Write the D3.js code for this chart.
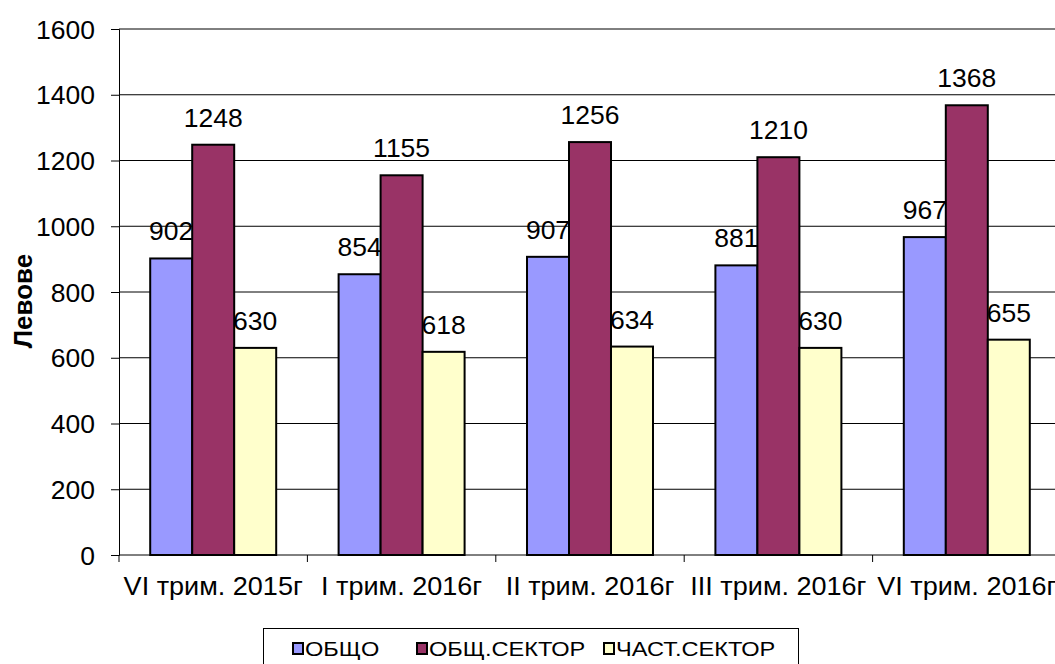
<!DOCTYPE html>
<html>
<head>
<meta charset="utf-8">
<script src="https://cdn.jsdelivr.net/npm/d3@7"></script>
<style>
  body { margin: 0; background: #fff; }
  svg { display: block; font-family: "Liberation Sans", Arial, sans-serif; }
</style>
</head>
<body>
<svg id="chart"></svg>
<script>
const categories = ["VI трим. 2015г", "I трим. 2016г", "II трим. 2016г", "III трим. 2016г", "VI трим. 2016г"];
const seriesNames = ["ОБЩО", "ОБЩ.СЕКТОР", "ЧАСТ.СЕКТОР"];
const obshto = [902, 854, 907, 881, 967];
const obshtSektor = [1248, 1155, 1256, 1210, 1368];
const chastSektor = [630, 618, 634, 630, 655];
const yTicks = [0, 200, 400, 600, 800, 1000, 1200, 1400, 1600];
const colors = ["#9999FF", "#993366", "#FFFFCC"];

function renderChart() {

  const svg = d3.select("#chart")
    .attr("width", 1055)
    .attr("height", 664);

  const margin = { top: 29, left: 119, bottom: 555, right: 1061 };
  const sx = 1.06; // text looks slightly stretched sideways in the source

  const x0 = d3.scaleBand()
    .domain(categories)
    .range([margin.left, margin.right])
    .padding(0);

  const x1 = d3.scaleBand()
    .domain(seriesNames)
    .range([0, x0.bandwidth()])
    .paddingInner(0)
    .paddingOuter(0.743);

  const y = d3.scaleLinear()
    .domain([0, 1600])
    .range([margin.bottom, margin.top]);

  // ===== GRIDLINES =====
  svg.append("g")
    .selectAll("line")
    .data(yTicks.filter(d => d > 0))
    .join("line")
    .attr("x1", margin.left)
    .attr("x2", margin.right)
    .attr("y1", d => y(d))
    .attr("y2", d => y(d))
    .attr("stroke", "#000")
    .attr("stroke-width", 1);

  // ===== AXES =====
  const yAxis = svg.append("g")
    .attr("transform", `translate(${margin.left},0)`)
    .call(d3.axisLeft(y).tickValues(yTicks).tickFormat(d3.format("d")).tickSize(8));

  yAxis.select(".domain").attr("stroke", "#000");
  yAxis.selectAll(".tick line").attr("stroke", "#000");
  yAxis.selectAll(".tick text")
    .attr("font-size", 25)
    .attr("fill", "#000")
    .attr("dy", "0.36em")
    .attr("transform", `scale(${sx},1)`)
    .attr("x", -24 / sx);

  const xAxis = svg.append("g")
    .attr("transform", `translate(0,${margin.bottom})`);

  xAxis.append("line")
    .attr("x1", margin.left)
    .attr("x2", margin.right)
    .attr("stroke", "#000");

  xAxis.selectAll(".cat-tick")
    .data(d3.range(categories.length + 1))
    .join("line")
    .attr("class", "cat-tick")
    .attr("x1", i => margin.left + i * x0.step())
    .attr("x2", i => margin.left + i * x0.step())
    .attr("y1", 0)
    .attr("y2", 7)
    .attr("stroke", "#000");

  xAxis.selectAll(".cat-label")
    .data(categories)
    .join("text")
    .attr("class", "cat-label")
    .attr("transform", d => `translate(${x0(d) + x0.bandwidth() / 2},40) scale(1.04,1)`)
    .attr("text-anchor", "middle")
    .attr("font-size", 26)
    .text(d => d);

  // ===== BARS =====
  const seriesValues = [obshto, obshtSektor, chastSektor];

  seriesValues.forEach((values, s) => {
    const name = seriesNames[s];
    const g = svg.append("g");

    g.selectAll("rect")
      .data(values)
      .join("rect")
      .attr("x", (d, i) => x0(categories[i]) + x1(name))
      .attr("y", d => y(d))
      .attr("width", x1.bandwidth())
      .attr("height", d => y(0) - y(d))
      .attr("fill", colors[s])
      .attr("stroke", "#000")
      .attr("stroke-width", 2);

    g.selectAll("text")
      .data(values)
      .join("text")
      .attr("transform", (d, i) =>
        `translate(${x0(categories[i]) + x1(name) + x1.bandwidth() / 2},${y(d) - 18}) scale(${sx},1)`)
      .attr("text-anchor", "middle")
      .attr("font-size", 25)
      .text(d => d);
  });

  // ===== Y LABEL =====
  svg.append("text")
    .attr("transform", "translate(32,301) rotate(-90)")
    .attr("text-anchor", "middle")
    .attr("font-size", 26)
    .attr("font-weight", 700)
    .text("Левове");

  // ===== LEGEND =====
  const legend = svg.append("g");

  legend.append("rect")
    .attr("x", 263.5)
    .attr("y", 628.5)
    .attr("width", 535)
    .attr("height", 50)
    .attr("fill", "#fff")
    .attr("stroke", "#000");

  const legendX = [293, 417, 604];

  seriesNames.forEach((name, s) => {
    legend.append("rect")
      .attr("x", legendX[s])
      .attr("y", 643)
      .attr("width", 10)
      .attr("height", 11)
      .attr("fill", colors[s])
      .attr("stroke", "#000")
      .attr("stroke-width", 2);

    legend.append("text")
      .attr("transform", `translate(${legendX[s] + 12},656) scale(1.15,1)`)
      .attr("font-size", 20.5)
      .text(name);
  });
}

renderChart();
</script>
</body>
</html>
